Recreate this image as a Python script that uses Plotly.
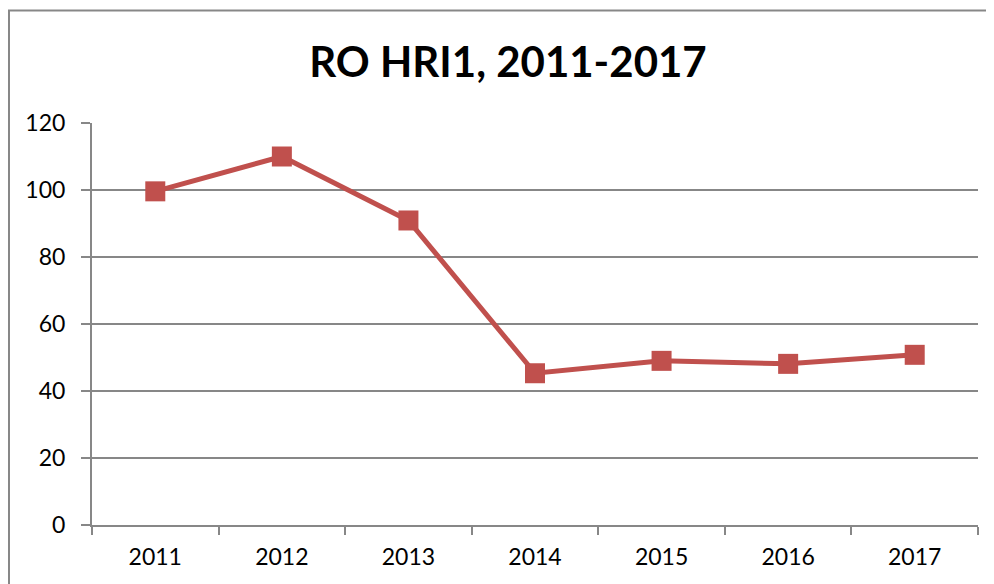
import plotly.graph_objects as go

years = ["2011", "2012", "2013", "2014", "2015", "2016", "2017"]
values = [99.6, 110.0, 90.9, 45.3, 49.0, 48.1, 50.8]
y_ticks = [0, 20, 40, 60, 80, 100, 120]

red = "#C0504D"
gray = "#878787"
font_family = "Lato, Carlito, 'Open Sans', sans-serif"

fig = go.Figure()
fig.add_trace(go.Scatter(
    x=years, y=values, mode="lines+markers",
    line=dict(color=red, width=5),
    marker=dict(symbol="square", size=20, color=red),
    showlegend=False, cliponaxis=False,
))

fig.update_layout(
    width=994, height=584,
    margin=dict(l=84, r=24, t=115, b=67),
    paper_bgcolor="white", plot_bgcolor="white",
    font=dict(family=font_family, color="black", size=23),
    title=dict(text="<b>RO HRI1, 2011-2017</b>", x=0.503, xanchor="center",
               y=0.9075, yanchor="middle",
               font=dict(size=42, family=font_family, color="black")),
    xaxis=dict(type="category", range=[-0.5, 6.5], tickson="boundaries",
               ticks="outside", ticklen=8, tickcolor=gray, tickwidth=2,
               showline=True, linecolor=gray, linewidth=2,
               showgrid=False, zeroline=False, ticklabelstandoff=10),
    yaxis=dict(range=[0, 120], tickvals=y_ticks, ticks="outside", ticklen=9,
               tickcolor=gray, tickwidth=2, showline=True, linecolor=gray,
               linewidth=2, showgrid=True, gridcolor=gray, gridwidth=2,
               zeroline=False, ticklabelstandoff=11),
)

fig.add_shape(type="rect", xref="paper", yref="paper",
              x0=-0.0937, x1=1.2, y0=-0.3, y1=1.2796,
              line=dict(color=gray, width=2), fillcolor="rgba(0,0,0,0)", layer="below")

fig.write_html("out.html")
